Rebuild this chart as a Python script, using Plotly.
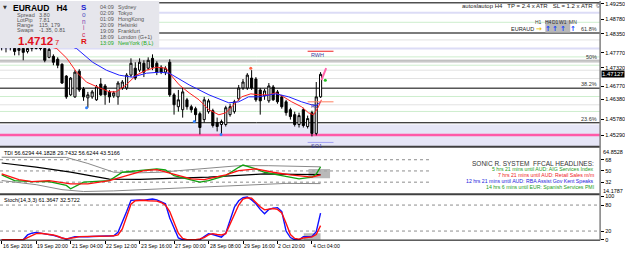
import plotly.graph_objects as go

# ---------------- DATA ----------------
bar_open = [1.48023, 1.47964, 1.48023, 1.47904, 1.47845, 1.47904, 1.47815, 1.47904, 1.47904, 1.47934,
            1.47904, 1.47637, 1.47667, 1.47578, 1.47429, 1.47073, 1.46509, 1.46449, 1.47221, 1.46687,
            1.46419, 1.46449, 1.46360, 1.46835, 1.46776, 1.46598, 1.46479, 1.46449, 1.46716, 1.46716,
            1.47103, 1.47310, 1.47251, 1.47459, 1.47310, 1.47607, 1.47459, 1.47340, 1.47192, 1.47489,
            1.46509, 1.46152, 1.46063, 1.46360, 1.46152, 1.46093, 1.45944, 1.45766, 1.46004, 1.46033,
            1.45677, 1.45618, 1.45618, 1.45915, 1.46004, 1.46390, 1.46716, 1.46716, 1.47013, 1.46984,
            1.46657, 1.46479, 1.46330, 1.46746, 1.46598, 1.46449, 1.46301, 1.46063, 1.45915, 1.45618,
            1.46063, 1.45558, 1.45974, 1.45350, 1.46449]
bar_high = [1.48142, 1.48083, 1.48112, 1.47964, 1.47964, 1.47964, 1.47934, 1.47994, 1.47994, 1.48023,
            1.47934, 1.47934, 1.47726, 1.47637, 1.47459, 1.47103, 1.47043, 1.47251, 1.47281, 1.46746,
            1.46598, 1.46657, 1.46806, 1.47013, 1.46835, 1.46657, 1.46627, 1.46924, 1.46954, 1.47162,
            1.47607, 1.47489, 1.47607, 1.47548, 1.47637, 1.47726, 1.47518, 1.47400, 1.47370, 1.47578,
            1.46568, 1.46657, 1.46716, 1.46419, 1.46212, 1.46152, 1.46004, 1.46449, 1.46390, 1.46093,
            1.45825, 1.45766, 1.46182, 1.46241, 1.46360, 1.46806, 1.46984, 1.47162, 1.47251, 1.47043,
            1.46716, 1.46687, 1.46865, 1.46806, 1.46657, 1.46509, 1.46360, 1.46122, 1.46004, 1.45974,
            1.46122, 1.45885, 1.46033, 1.46895, 1.47192]
bar_low = [1.47845, 1.47786, 1.47845, 1.47697, 1.47697, 1.47548, 1.47756, 1.47815, 1.47875, 1.47845,
           1.47489, 1.47607, 1.47400, 1.47310, 1.46835, 1.46390, 1.46479, 1.46419, 1.46598, 1.46330,
           1.46122, 1.46390, 1.46330, 1.46479, 1.46212, 1.46271, 1.46419, 1.46212, 1.46657, 1.46657,
           1.47043, 1.46954, 1.47192, 1.47043, 1.47251, 1.47251, 1.47103, 1.47132, 1.47103, 1.46449,
           1.45915, 1.46004, 1.45825, 1.46063, 1.45974, 1.45707, 1.45321, 1.45677, 1.45944, 1.45528,
           1.45410, 1.45321, 1.45558, 1.45855, 1.45944, 1.46330, 1.46657, 1.46657, 1.46657, 1.46301,
           1.45915, 1.46360, 1.46271, 1.46330, 1.46241, 1.46093, 1.45885, 1.45766, 1.45558, 1.45528,
           1.45528, 1.45499, 1.45261, 1.45291, 1.46419]
bar_close = [1.47964, 1.48023, 1.47934, 1.47815, 1.47904, 1.47786, 1.47904, 1.47934, 1.47934, 1.47904,
             1.47548, 1.47875, 1.47489, 1.47400, 1.46865, 1.46449, 1.47013, 1.47192, 1.46657, 1.46449,
             1.46509, 1.46598, 1.46746, 1.46509, 1.46509, 1.46449, 1.46568, 1.46865, 1.46895, 1.47103,
             1.47459, 1.47013, 1.47489, 1.47192, 1.47548, 1.47340, 1.47192, 1.47192, 1.47310, 1.46509,
             1.46212, 1.46360, 1.46598, 1.46152, 1.46063, 1.45915, 1.45528, 1.46360, 1.46330, 1.45588,
             1.45558, 1.45707, 1.46122, 1.46152, 1.46301, 1.46716, 1.46895, 1.47103, 1.46716, 1.46360,
             1.46330, 1.46627, 1.46776, 1.46360, 1.46301, 1.46152, 1.45974, 1.45855, 1.45618, 1.45885,
             1.45588, 1.45796, 1.45350, 1.46449, 1.47127]
bar_index = list(range(len(bar_close)))

red_ma_idx = [0, 5, 10, 12.8, 15.1, 17.4, 19.7, 22.7, 25.0, 26.6, 28.9, 31.2, 33.6, 35.9, 38.2, 38.9, 41.2,
              43.5, 45.8, 48.1, 50.4, 52.0, 53.9, 55.7, 57.8, 59.7, 62.0, 63.6, 65.4, 67.3, 69.6, 71.2, 72.4,
              73.5, 74.2]
red_ma = [1.4808, 1.4805, 1.4800, 1.4790, 1.4761, 1.4719, 1.4689, 1.4672, 1.4660, 1.4660, 1.4681, 1.4710,
          1.4725, 1.4734, 1.4731, 1.4716, 1.4681, 1.4657, 1.4636, 1.4606, 1.4591, 1.4597, 1.4621, 1.4645,
          1.4654, 1.4651, 1.4651, 1.4657, 1.4645, 1.4630, 1.4615, 1.4597, 1.4591, 1.4615, 1.4636]
blue_ma_idx = [0, 10, 14, 17.4, 21.1, 24.3, 27.3, 30.3, 33.6, 36.6, 38.9, 43.5, 48.1, 52.7, 55.0, 57.3,
               59.7, 63.6, 66.6, 69.6, 71.9, 73.0, 74.0]
blue_ma = [1.4830, 1.4815, 1.4805, 1.4790, 1.4749, 1.4725, 1.4710, 1.4704, 1.4716, 1.4719, 1.4716, 1.4681,
           1.4651, 1.4627, 1.4630, 1.4645, 1.4645, 1.4654, 1.4645, 1.4630, 1.4621, 1.4618, 1.4630]

fractal_down_idx = [19.7, 44.7, 50.9]
fractal_down = [1.4612, 1.4571, 1.4532]
fractal_up_idx = [57.8]
fractal_up = [1.4731]
projection_idx = [74.2, 75.3]
projection = [1.4695, 1.4731]
signal_dot_idx = [75.1]
signal_dot = [1.4695]

dark_levels = [1.4928, 1.4837]
black_levels = [1.4671, 1.4567]
gray_levels = [1.4755, 1.4750]
green_levels = [1.4869, 1.4765, 1.4740, 1.4646, 1.4601]
lavender_levels = [1.4898, 1.4790]
lightgray_levels = [1.4816, 1.4725, 1.4700, 1.4621]
zone = [1.4400, 1.4562]
zone_line = 1.4530

fib_labels = ["61.8%", "50%", "38.2%", "23.6%"]
fib_prices = [1.4837, 1.4752, 1.4671, 1.4567]

pivot_names = ["RWH", "R1", "SO1"]
pivot_prices = [1.4782, 1.4630, 1.4508]
pivot_start = 71

price_ticks = [1.49250, 1.48780, 1.48350, 1.47770, 1.47320, 1.46770, 1.46380, 1.45780, 1.45290]
last_price = 1.47127

rsi_idx = [0, 3, 7, 11, 15, 16, 19, 25, 28, 32, 36, 38, 40, 43, 46, 48, 52, 55, 56, 59, 61, 65, 69, 72, 73, 74]
rsi = [43.7, 34.6, 33.0, 33.0, 26.7, 21.4, 32.0, 34.6, 47.9, 50.5, 53.2, 51.5, 42.6, 37.3, 32.0, 34.6, 42.6,
       55.8, 59.5, 53.2, 47.9, 42.6, 37.3, 40.0, 45.0, 56.6]
tsig_idx = [0, 4, 7, 11, 16, 20, 25, 29, 33, 36, 40, 44, 47, 52, 55, 59, 63, 67, 72, 74]
tsig = [45.2, 36.2, 33.0, 34.6, 29.4, 29.4, 34.6, 42.6, 50.5, 52.0, 45.2, 37.3, 36.2, 43.7, 50.5, 53.2, 47.9,
        43.7, 40.0, 43.5]
base_idx = [0, 8, 16, 25, 32, 40, 48, 55, 61, 68, 74]
base = [62.7, 56.0, 48.0, 37.0, 36.5, 38.0, 40.0, 43.0, 45.2, 44.5, 44.2]
upper_idx = [0, 8, 15, 20, 26, 32, 37, 42, 50, 55, 62, 68, 74]
upper = [72.0, 72.0, 71.7, 62.0, 48.0, 47.0, 48.0, 51.0, 55.0, 58.4, 58.4, 57.5, 56.6]
lower_idx = [0, 8, 14, 19, 26, 38, 54, 66, 74]
lower = [34.6, 28.0, 20.0, 17.0, 18.0, 21.4, 26.7, 30.0, 29.7]
tdi_levels = [68, 50, 32]
tdi_title = "TDI 56.6294 44.1828 29.7432 56.6244 43.5166"

stoch_main = [0, 0, 0, 0, 0, 0, 11, 15, 17, 15.5, 14, 12, 10, 7, 4, 1, 4, 7, 7, 6.5,
              7, 7.5, 8, 8.5, 8.5, 8.5, 9, 17, 40, 65, 91, 92, 92, 91, 93, 94, 92, 87, 83, 50,
              25, 4, 0, 0, 0, 0, 0, 7, 14, 12, 9, 6, 15, 45, 75, 90, 97, 98.6, 92, 83,
              70, 60, 70, 73, 74, 65, 20, 5, 0, 0, 7, 7, 7.5, 18.7, 61.4]
stoch_signal = [0, 0, 0, 0, 0, 0, 5, 10, 14, 15, 14, 13, 11, 8, 4, 2, 3, 5, 7, 7,
                7.5, 8, 8.5, 8.5, 8.5, 8.5, 9, 11, 25, 55, 82, 90, 91, 91, 90, 90, 89, 86, 80, 65,
                40, 15, 3, 0, 0, 0, 2, 5, 11, 14, 12, 11, 14, 35, 55, 80, 94, 97, 96, 86,
                76, 69, 70, 72, 70, 62, 38, 12, 3, 1, 4, 5.5, 6.5, 12, 32.6]
stoch_levels = [80, 20]
stoch_ticks = [100, 80, 20, 0]
stoch_title = "Stoch(14,3,3) 61.3647 32.5722"

date_idx = [0, 8, 16, 24, 32, 40, 48, 56, 64, 72]
date_labels = ["16 Sep 2016", "19 Sep 20:00", "21 Sep 04:00", "22 Sep 12:00", "23 Sep 16:00",
               "27 Sep 00:00", "28 Sep 08:00", "29 Sep 16:00", "2 Oct 20:00", "4 Oct 04:00"]

stat_names = ["Spread", "LotPip", "Range", "Swaps"]
stat_values = ["3.80", "7.81", "115, 179", "-1.35, 0.81"]
session_times = ["04:09", "02:09", "01:09", "20:09", "19:09", "18:09", "13:09"]
session_names = ["Sydney", "Tokyo", "HongKong", "Helsinki", "Frankfurt", "London (G+1)", "NewYork (B,L)"]

news_header = "SONIC R. SYSTEM  FFCAL HEADLINES:"
news_lines = ["5 hrs 21 mins until AUD: AIG Services Index",
              "7 hrs 21 mins until AUD: Retail Sales m/m",
              "12 hrs 21 mins until AUD: RBA Assist Gov Kent Speaks",
              "14 hrs 6 mins until EUR: Spanish Services PMI"]
news_colors = ["#22a022", "#ee2222", "#2222dd", "#22a022"]

# ---------------- LAYOUT HELPERS ----------------
W, H = 625, 254
FONT = "Liberation Sans, Arial, sans-serif"
def px(x): return x / W
def py(y): return 1 - y / H

XR = [-0.39, -0.39 + 603 / 4.33]
P_DOM = [py(147), py(0)]
T_DOM = [py(195), py(148)]
S_DOM = [py(242), py(196)]
P_RANGE = [1.4933 - 147 * 0.000297, 1.4933]

fig = go.Figure()

fig.add_trace(go.Candlestick(
    x=bar_index, open=bar_open, high=bar_high, low=bar_low, close=bar_close,
    xaxis="x", yaxis="y", whiskerwidth=0, hoverinfo="skip", showlegend=False,
    increasing=dict(line=dict(color="black", width=1), fillcolor="white"),
    decreasing=dict(line=dict(color="black", width=1), fillcolor="black")))
fig.add_trace(go.Scatter(x=red_ma_idx, y=red_ma, mode="lines", line=dict(color="#ff2020", width=1),
                         xaxis="x", yaxis="y", showlegend=False, hoverinfo="skip"))
fig.add_trace(go.Scatter(x=blue_ma_idx, y=blue_ma, mode="lines", line=dict(color="#2020ff", width=1),
                         xaxis="x", yaxis="y", showlegend=False, hoverinfo="skip"))
fig.add_trace(go.Scatter(x=fractal_down_idx, y=fractal_down, mode="markers",
                         marker=dict(color="#3080ff", size=3, symbol="circle"),
                         xaxis="x", yaxis="y", showlegend=False, hoverinfo="skip"))
fig.add_trace(go.Scatter(x=fractal_up_idx, y=fractal_up, mode="markers",
                         marker=dict(color="#ff6040", size=3, symbol="circle"),
                         xaxis="x", yaxis="y", showlegend=False, hoverinfo="skip"))
fig.add_trace(go.Scatter(x=projection_idx, y=projection, mode="lines", line=dict(color="#ff66aa", width=2),
                         xaxis="x", yaxis="y", showlegend=False, hoverinfo="skip"))
fig.add_trace(go.Scatter(x=signal_dot_idx, y=signal_dot, mode="markers", marker=dict(color="#20c020", size=3),
                         xaxis="x", yaxis="y", showlegend=False, hoverinfo="skip"))

# TDI
for xs, ys, col, w in [(upper_idx, upper, "#8a8a8a", 1), (lower_idx, lower, "#8a8a8a", 1),
                       (base_idx, base, "#000000", 1.2), (rsi_idx, rsi, "#10a010", 1.3),
                       (tsig_idx, tsig, "#ff1010", 1.3)]:
    fig.add_trace(go.Scatter(x=xs, y=ys, mode="lines", line=dict(color=col, width=w),
                             xaxis="x2", yaxis="y2", showlegend=False, hoverinfo="skip"))
# Stoch
fig.add_trace(go.Scatter(x=bar_index, y=stoch_main, mode="lines", line=dict(color="#1010ff", width=1.4),
                         xaxis="x3", yaxis="y3", showlegend=False, hoverinfo="skip"))
fig.add_trace(go.Scatter(x=bar_index, y=stoch_signal, mode="lines", line=dict(color="#ff1010", width=1.4),
                         xaxis="x3", yaxis="y3", showlegend=False, hoverinfo="skip"))

shapes = []
def hline(yv, color, width, yref="y", dash="solid", layer="below"):
    shapes.append(dict(type="line", xref="x domain", x0=0, x1=1, yref=yref, y0=yv, y1=yv,
                       line=dict(color=color, width=width, dash=dash), layer=layer))

shapes.append(dict(type="rect", xref="x domain", x0=0, x1=1, yref="y", y0=zone[0], y1=zone[1],
                   fillcolor="#e6e6f7", line=dict(width=0), layer="below"))
for v in lavender_levels: hline(v, "#dcdcf6", 2)
for v in green_levels: hline(v, "#cdeecd", 1)
for v in lightgray_levels: hline(v, "#e2e2e2", 1)
for v in gray_levels: hline(v, "#a8a8a8", 1)
for v in dark_levels: hline(v, "#505050", 1.5)
for v in black_levels: hline(v, "#000000", 1)
hline(zone_line, "#ff5aa8", 2.5)

pivot_colors = ["#ee2020", "#ff8060", "#a0a0f0"]
for name, pv, c in zip(pivot_names, pivot_prices, pivot_colors):
    shapes.append(dict(type="line", xref="x", x0=pivot_start, x1=pivot_start + 6, yref="y", y0=pv, y1=pv,
                       line=dict(color=c, width=1), layer="above"))

for v in tdi_levels: hline(v, "#707070", 0.8, yref="y2", dash="dot")
for v in stoch_levels: hline(v, "#707070", 0.8, yref="y3", dash="dot")

# white box behind news text
shapes.append(dict(type="rect", xref="paper", yref="paper", x0=px(433), x1=px(602), y0=py(192), y1=py(157),
                   fillcolor="white", line=dict(width=0), layer="above"))
# current bar markers
shapes.append(dict(type="rect", xref="x2", yref="y2", x0=71.2, x1=76.2, y0=38.4, y1=53.2,
                   fillcolor="#a8a8a8", opacity=0.8, line=dict(width=0), layer="below"))
shapes.append(dict(type="rect", xref="x3", yref="y3", x0=70.1, x1=74.0, y0=0, y1=14.8,
                   fillcolor="#a8a8a8", opacity=0.8, line=dict(width=0), layer="below"))

# info panel
shapes.append(dict(type="rect", xref="paper", yref="paper", x0=0, x1=px(160), y0=py(47.5), y1=1,
                   fillcolor="#e6e6ec", line=dict(width=0), layer="above"))
# EURAUD trend box
shapes.append(dict(type="rect", xref="paper", yref="paper", x0=px(548), x1=px(573), y0=py(32), y1=py(19.5),
                   fillcolor="#b8b8b8", line=dict(width=0), layer="above"))

# pane separators / borders
shapes.append(dict(type="line", xref="paper", yref="paper", x0=0, x1=px(603), y0=py(147.5), y1=py(147.5),
                   line=dict(color="#404040", width=2)))
shapes.append(dict(type="line", xref="paper", yref="paper", x0=0, x1=px(603), y0=py(195.5), y1=py(195.5),
                   line=dict(color="#404040", width=2)))
shapes.append(dict(type="line", xref="paper", yref="paper", x0=0, x1=px(603), y0=py(242), y1=py(242),
                   line=dict(color="#000000", width=1)))
shapes.append(dict(type="line", xref="paper", yref="paper", x0=px(603), x1=px(603), y0=py(242), y1=1,
                   line=dict(color="#808080", width=1.5)))

ann = []
def text(x, y, s, size=6, color="#000", xanchor="left", bold=False, yanchor="middle", xref="paper",
         yref="paper", bg=None, family=FONT):
    if bold:
        s = "<b>" + s + "</b>"
    d = dict(x=x, y=y, xref=xref, yref=yref, text=s, showarrow=False, xanchor=xanchor, yanchor=yanchor,
             font=dict(family=family, size=size, color=color), borderpad=0)
    if bg:
        d["bgcolor"] = bg
    ann.append(d)

# info panel contents
text(px(2), py(6), "▼", size=5, color="#333", family="DejaVu Sans")
text(px(12), py(7), "EURAUD&nbsp;&nbsp;&nbsp;H4", size=8.5, bold=True)
for k, (n, v) in enumerate(zip(stat_names, stat_values)):
    text(px(16), py(14.5 + 5 * k), n, size=5.5, color="#555")
    text(px(38), py(14.5 + 5 * k), v, size=5.5, color="#555")
text(px(17.5), py(40), "1.4712", size=11.5, color="#e01020", bold=True)
text(px(54.5), py(41.5), "7", size=7.5, color="#e01020")
sonic = [("S", "#2020d0", 8, True), ("o", "#5050c0", 6.5, False), ("n", "#8040b0", 6.5, False),
         ("i", "#b03090", 6.5, False), ("c", "#d02050", 6.5, False), ("R", "#e01010", 8, True)]
for k, (ch, c, s, b) in enumerate(sonic):
    text(px(84), py(7 + 6.7 * k), ch, size=s, color=c, bold=b, xanchor="center")
for k, (t, n) in enumerate(zip(session_times, session_names)):
    col = "#22aa22" if k == len(session_names) - 1 else "#555"
    text(px(99), py(6 + 6 * k), t, size=5.5, color=col)
    text(px(118), py(6 + 6 * k), n, size=5.5, color=col)

# top-right info
text(px(597), py(5.5), "autoslautop H4&nbsp;&nbsp;&nbsp;TP = 2.4 x ATR&nbsp;&nbsp;&nbsp;SL = 1.2 x ATR",
     size=6, color="#222", xanchor="right")
text(px(600.5), py(5.5), "©", size=5.5, color="#222", xanchor="center")
text(px(537.5), py(28), "EURAUD", size=5.5, color="#222", xanchor="right")
text(px(541), py(21), "H1", size=5, color="#444", xanchor="center")
text(px(542), py(28), "→", size=7, color="#e8c000", xanchor="center", bold=True, family="DejaVu Sans")
for lab, xx in zip(["H4", "D1", "W1", "MN"], [551, 558, 566, 576]):
    text(px(xx), py(21), lab, size=5, color="#333", xanchor="center")
    text(px(xx), py(28), "↑", size=7, color="#1040ff", xanchor="center", bold=True, family="DejaVu Sans")

# fib labels
for lab, pv in zip(fib_labels, fib_prices):
    text(px(601), pv, lab, size=5.5, color="#333", xanchor="right", yanchor="bottom", yref="y")
# pivot labels
for name, pv in zip(pivot_names, pivot_prices):
    text(pivot_start + 0.5, pv, name, size=5.5, color="#4040a0", xanchor="left", yanchor="top", xref="x",
         yref="y")

# price box
text(px(604), last_price, "1.47127", size=6, color="white", xanchor="left", yref="y", bg="black")

# TDI labels
text(px(3), py(153.5), tdi_title, size=5.5, color="#000")
text(px(605), py(153), "64.8528", size=5.5, color="#000")
text(px(605), py(192), "14.1787", size=5.5, color="#000")
text(px(598), py(164), news_header, size=6.5, color="#333", xanchor="right")
for k, (s, c) in enumerate(zip(news_lines, news_colors)):
    text(px(598), py(170.5 + 6 * k), s, size=5.2, color=c, xanchor="right")

# Stoch title
text(px(3), py(201), stoch_title, size=5.5, color="#000")

# date labels
for i, lab in zip(date_idx, date_labels):
    text(i, py(247.5), lab, size=5.2, color="#000", xref="x3")

axis_common = dict(showgrid=False, zeroline=False, showline=False)
tick_font = dict(family=FONT, size=5.5, color="#000")
fig.update_layout(
    width=W, height=H, margin=dict(l=0, r=0, t=0, b=0), autosize=False,
    paper_bgcolor="white", plot_bgcolor="white", showlegend=False,
    xaxis=dict(domain=[0, px(603)], range=XR, anchor="y", showticklabels=False,
               rangeslider=dict(visible=False), **axis_common),
    xaxis2=dict(domain=[0, px(603)], range=XR, anchor="y2", matches="x", showticklabels=False, **axis_common),
    xaxis3=dict(domain=[0, px(603)], range=XR, anchor="y3", matches="x", showticklabels=False,
                ticks="outside", ticklen=3, tickcolor="#000", tickvals=date_idx, **axis_common),
    yaxis=dict(domain=P_DOM, range=P_RANGE, side="right", anchor="x", tickvals=price_ticks,
               ticktext=["%.5f" % v for v in price_ticks], ticks="outside", ticklen=3, tickcolor="#000",
               tickfont=tick_font, **axis_common),
    yaxis2=dict(domain=T_DOM, range=[13.5, 88], side="right", anchor="x2", tickvals=tdi_levels,
                ticks="outside", ticklen=3, tickcolor="#000", tickfont=tick_font, **axis_common),
    yaxis3=dict(domain=S_DOM, range=[-1, 104], side="right", anchor="x3", tickvals=stoch_ticks,
                ticks="outside", ticklen=3, tickcolor="#000", tickfont=tick_font, **axis_common),
    shapes=shapes, annotations=ann,
)

fig.write_html("out.html")
